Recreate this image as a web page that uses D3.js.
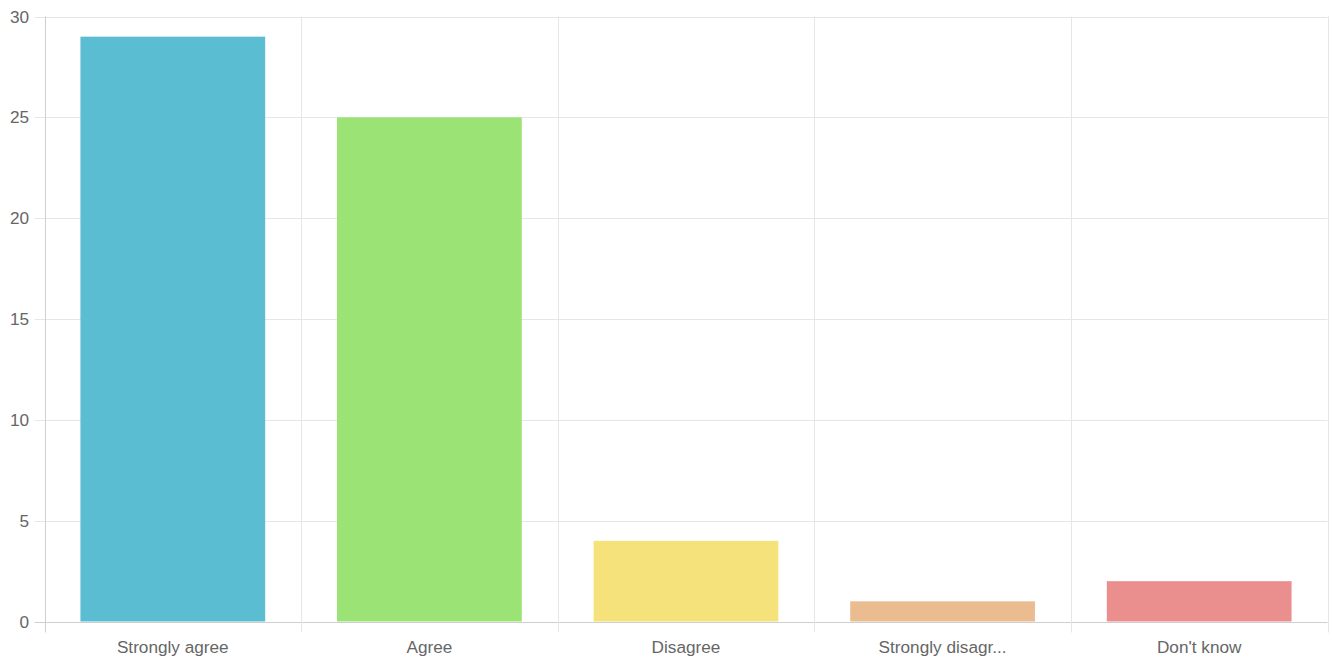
<!DOCTYPE html>
<html><head><meta charset="utf-8">
<script src="https://cdn.jsdelivr.net/npm/d3@7"></script>
<style>body{margin:0;background:#fff}svg{display:block}text{font-family:"Liberation Sans",Arial,sans-serif;fill:#666;font-size:17.2px}</style>
</head><body><svg id="c" width="1332" height="662"></svg>
<script>
const categories = ["Strongly agree","Agree","Disagree","Strongly disagr...","Don't know"];
const values = [29,25,4,1,2];
const colors = ["#5bbdd1","#9be374","#f5e27a","#ebbc8f","#eb8f8e"];
const yTicks = [0,5,10,15,20,25,30];

const svg = d3.select("#c");
const L=44.5, R=1327.5, T=16.5, B=621.5;
const x = d3.scaleBand().domain(categories).range([L,R]);
const y = d3.scaleLinear().domain([0,30]).range([B,T]);

// horizontal grid
svg.append("g").selectAll("line").data(yTicks).join("line")
  .attr("x1",L-10).attr("x2",R).attr("y1",d=>Math.round(y(d))+0.5).attr("y2",d=>Math.round(y(d))+0.5)
  .attr("stroke",d=>d===0?"#cfcfcf":"#e6e6e6").attr("stroke-width",1);
// vertical grid
const vx = categories.map((c,i)=>x(c)).concat([R]);
svg.append("g").selectAll("line").data(vx).join("line")
  .attr("x1",d=>Math.round(d)+0.5).attr("x2",d=>Math.round(d)+0.5).attr("y1",T).attr("y2",B+11)
  .attr("stroke",(d,i)=>i===0?"#cfcfcf":"#e6e6e6");
// bars
const bw = x.bandwidth()*0.72;
svg.append("g").selectAll("rect").data(values).join("rect")
  .attr("x",(d,i)=>x(categories[i])+(x.bandwidth()-bw)/2)
  .attr("width",bw)
  .attr("y",d=>y(d))
  .attr("height",d=>B-y(d))
  .attr("fill",(d,i)=>colors[i]);
// y labels
svg.append("g").selectAll("text").data(yTicks).join("text")
  .attr("x",29).attr("y",d=>y(d)).attr("dy","0.35em").attr("text-anchor","end").text(d=>d);
// x labels
svg.append("g").selectAll("text").data(categories).join("text")
  .attr("x",d=>x(d)+x.bandwidth()/2).attr("y",647).attr("dy","0.35em").attr("text-anchor","middle").text(d=>d);
</script></body></html>
